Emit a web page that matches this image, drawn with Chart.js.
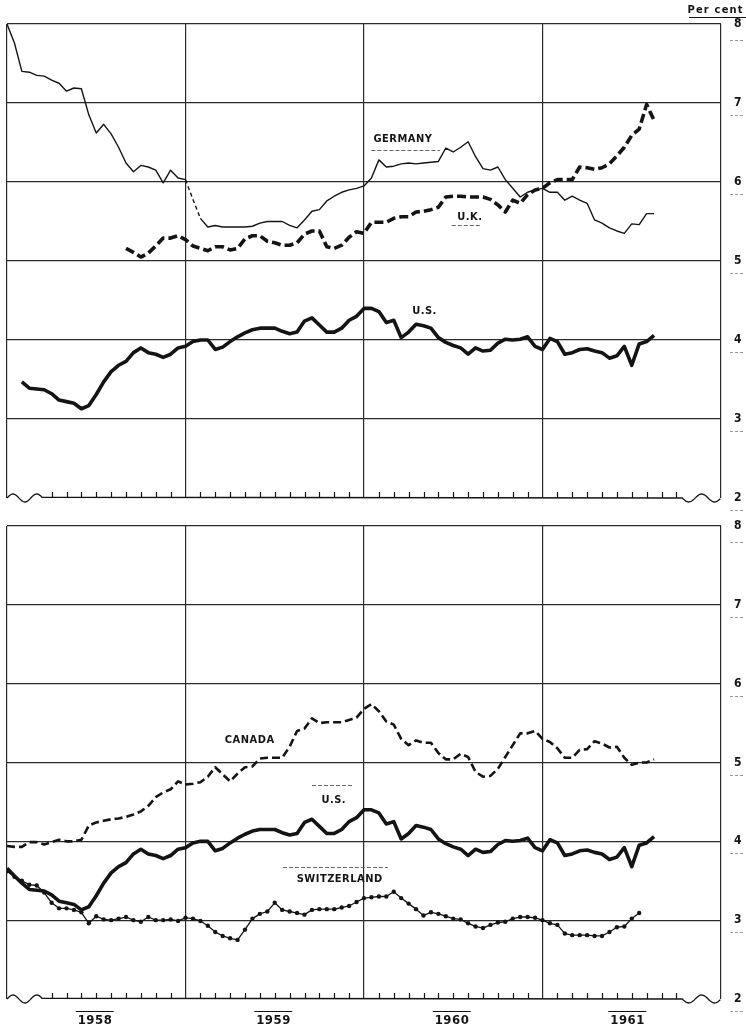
<!DOCTYPE html>
<html>
<head>
  <title>Long-term government bond yields, 1958-1961</title>
  <script src="https://cdn.jsdelivr.net/npm/chart.js"></script>
  <style>
    body { margin: 0; background: #fff; }
    #wrap { position: relative; width: 746px; height: 1026px; }
    canvas { position: absolute; left: 0; }
    #topChart { top: 0; z-index: 2; }
    #bottomChart { top: 505px; z-index: 1; }
  </style>
</head>
<body>
  <div id="wrap">
    <canvas id="topChart" width="746" height="520"></canvas>
    <canvas id="bottomChart" width="746" height="521"></canvas>
  </div>

  <script>
    // readings every half month, x counted in months from January 1958
    const germanyStart = 0;
    const germany = [8.0, 7.76, 7.40, 7.39, 7.35, 7.34, 7.29, 7.25, 7.15, 7.19,
      7.18, 6.85, 6.62, 6.73, 6.61, 6.44, 6.24, 6.13, 6.21, 6.19,
      6.15, 5.99, 6.15, 6.05, 6.03, 5.78, 5.54, 5.43, 5.45, 5.43,
      5.43, 5.43, 5.43, 5.44, 5.48, 5.5, 5.5, 5.5, 5.45, 5.42,
      5.52, 5.63, 5.65, 5.76, 5.82, 5.87, 5.9, 5.92, 5.95, 6.05,
      6.28, 6.19, 6.2, 6.23, 6.24, 6.23, 6.24, 6.25, 6.26, 6.43,
      6.38, 6.44, 6.51, 6.32, 6.17, 6.15, 6.19, 6.03, 5.92, 5.81,
      5.87, 5.9, 5.92, 5.87, 5.87, 5.77, 5.82, 5.77, 5.73, 5.52,
      5.48, 5.42, 5.38, 5.35, 5.47, 5.46, 5.6, 5.6];

    const ukStart = 16;
    const uk = [5.16, 5.11, 5.05, 5.1, 5.19, 5.29, 5.29, 5.32, 5.27, 5.19,
      5.16, 5.13, 5.18, 5.18, 5.14, 5.16, 5.28, 5.32, 5.32, 5.25,
      5.23, 5.2, 5.2, 5.23, 5.34, 5.38, 5.38, 5.18, 5.16, 5.2,
      5.3, 5.37, 5.35, 5.49, 5.49, 5.49, 5.54, 5.56, 5.56, 5.62,
      5.63, 5.65, 5.68, 5.81, 5.82, 5.82, 5.81, 5.81, 5.81, 5.78,
      5.71, 5.62, 5.77, 5.73, 5.84, 5.9, 5.92, 5.99, 6.03, 6.03,
      6.03, 6.19, 6.18, 6.16, 6.18, 6.23, 6.33, 6.44, 6.59, 6.67,
      6.98, 6.78];

    const usStart = 0;
    const usTopFrom = 2; // upper panel starts two readings later
    const us = [3.66, 3.56, 3.47, 3.39, 3.38, 3.37, 3.32, 3.24, 3.22, 3.2,
      3.13, 3.17, 3.31, 3.47, 3.6, 3.68, 3.73, 3.84, 3.9, 3.84,
      3.82, 3.78, 3.82, 3.9, 3.92, 3.98, 4.0, 4.0, 3.88, 3.91,
      3.98, 4.04, 4.09, 4.13, 4.15, 4.15, 4.15, 4.11, 4.08, 4.1,
      4.24, 4.28, 4.19, 4.1, 4.1, 4.15, 4.25, 4.3, 4.4, 4.4,
      4.36, 4.22, 4.25, 4.03, 4.1, 4.2, 4.18, 4.15, 4.03, 3.97,
      3.93, 3.9, 3.82, 3.9, 3.86, 3.87, 3.96, 4.01, 4.0, 4.01,
      4.04, 3.92, 3.88, 4.02, 3.98, 3.82, 3.84, 3.88, 3.89, 3.86,
      3.84, 3.77, 3.8, 3.92, 3.68, 3.95, 3.98, 4.06];

    const canadaStart = 0;
    const canada = [3.94, 3.93, 3.93, 3.99, 3.99, 3.96, 3.99, 4.02, 4.0, 4.0,
      4.02, 4.2, 4.24, 4.26, 4.28, 4.29, 4.31, 4.34, 4.38, 4.45,
      4.56, 4.62, 4.66, 4.76, 4.72, 4.73, 4.75, 4.82, 4.94, 4.85,
      4.76, 4.86, 4.94, 4.95, 5.05, 5.06, 5.06, 5.06, 5.2, 5.4,
      5.43, 5.56, 5.5, 5.51, 5.51, 5.51, 5.54, 5.57, 5.68, 5.74,
      5.65, 5.52, 5.48, 5.3, 5.22, 5.28, 5.25, 5.25, 5.12, 5.04,
      5.04, 5.11, 5.07, 4.88, 4.82, 4.83, 4.92, 5.07, 5.22, 5.37,
      5.37, 5.4, 5.3, 5.26, 5.18, 5.06, 5.06, 5.16, 5.17, 5.27,
      5.24, 5.19, 5.2, 5.06, 4.97, 5.0, 5.0, 5.04];

    const swissStart = 0;
    const switzerland = [3.62, 3.55, 3.5, 3.45, 3.44, 3.35, 3.22, 3.15, 3.15, 3.13,
      3.1, 2.96, 3.05, 3.01, 3.0, 3.02, 3.04, 3.0, 2.98, 3.04,
      3.0, 3.0, 3.01, 2.99, 3.03, 3.02, 2.99, 2.93, 2.85, 2.8,
      2.77, 2.75, 2.88, 3.02, 3.08, 3.11, 3.22, 3.13, 3.11, 3.09,
      3.07, 3.13, 3.14, 3.14, 3.14, 3.16, 3.18, 3.23, 3.28, 3.29,
      3.3, 3.3, 3.36, 3.28, 3.21, 3.14, 3.06, 3.1, 3.08, 3.05,
      3.02, 3.01, 2.96, 2.92, 2.9, 2.94, 2.97, 2.98, 3.02, 3.04,
      3.04, 3.03, 3.0, 2.96, 2.94, 2.83, 2.81, 2.81, 2.81, 2.8,
      2.8, 2.85, 2.91, 2.92, 3.02, 3.09];

    const yearLabels = ['1958', '1959', '1960', '1961'];
    const yearPos = [5.9, 17.9, 29.9, 41.7];

    // series names written on the panels: [text, month, per cent]
    const topNames = [['GERMANY', 26.6, 6.54], ['U.K.', 31.1, 5.56], ['U.S.', 28.05, 4.37]];
    const bottomNames = [['CANADA', 16.3, 5.28], ['U.S.', 21.95, 4.52], ['SWITZERLAND', 22.35, 3.52]];
    // leader lines under / over the names: [from month, to month, per cent]
    const topLeaders = [[24.5, 29.1, 6.41], [29.9, 31.8, 5.46]];
    const bottomLeaders = [[18.55, 25.6, 3.67], [20.5, 23.2, 4.72]];

    const FONT = '"DejaVu Sans Condensed", "Liberation Sans Narrow", "DejaVu Sans", sans-serif';
    const INK = '#141414';

    function toPoints(start, values) {
      return values.map((v, i) => ({ x: (start + i) / 2, y: v }));
    }

    function drawText(ctx, text, px, py, size, spacing) {
      ctx.save();
      ctx.font = 'bold ' + size + 'px ' + FONT;
      ctx.letterSpacing = spacing + 'px';
      ctx.textAlign = 'center';
      ctx.textBaseline = 'middle';
      ctx.fillStyle = INK;
      ctx.fillText(text, px + spacing / 2, py);
      ctx.restore();
    }

    // bottom edge with break marks, month ticks, names, years
    const decor = {
      id: 'decor',
      afterDraw(chart, args, opts) {
        const ctx = chart.ctx;
        const a = chart.chartArea;
        const x = chart.scales.x, y = chart.scales.y;
        const base = a.bottom;
        ctx.save();
        ctx.strokeStyle = INK;
        ctx.lineWidth = 1.3;
        ctx.beginPath();
        const l1 = x.getPixelForValue(2.4);
        ctx.moveTo(a.left, base);
        for (let px = a.left; px <= l1; px++) {
          const t = (px - a.left) / (l1 - a.left);
          ctx.lineTo(px, base - 4 * Math.sin(t * 3 * Math.PI));
        }
        const r0 = x.getPixelForValue(45.4);
        ctx.lineTo(r0, base);
        for (let px = r0; px <= a.right; px++) {
          const t = (px - r0) / (a.right - r0);
          ctx.lineTo(px, base + 4 * Math.sin(t * 3 * Math.PI));
        }
        ctx.stroke();

        ctx.lineWidth = 1.2;
        ctx.beginPath();
        for (let m = 3; m <= 45; m++) {
          if (m % 12 === 0) continue;
          const px = Math.round(x.getPixelForValue(m)) + 0.5;
          ctx.moveTo(px, base);
          ctx.lineTo(px, base - 6);
        }
        ctx.stroke();

        // faint marks under the scale numbers
        ctx.strokeStyle = '#9a9a9a';
        ctx.lineWidth = 1;
        ctx.setLineDash([3, 2]);
        ctx.beginPath();
        for (let v = 2; v <= 8; v++) {
          const py = Math.round(y.getPixelForValue(v)) + (v === 8 ? 16 : 12) + 0.5;
          ctx.moveTo(730, py);
          ctx.lineTo(745, py);
        }
        ctx.stroke();

        ctx.strokeStyle = '#666';
        ctx.setLineDash([4, 2]);
        ctx.beginPath();
        opts.leaders.forEach(l => {
          const py = Math.round(y.getPixelForValue(l[2])) + 0.5;
          ctx.moveTo(x.getPixelForValue(l[0]), py);
          ctx.lineTo(x.getPixelForValue(l[1]), py);
        });
        ctx.stroke();
        ctx.setLineDash([]);

        opts.names.forEach(n => {
          drawText(ctx, n[0], x.getPixelForValue(n[1]), y.getPixelForValue(n[2]), 11, 0.5);
        });

        if (opts.perCent) {
          drawText(ctx, 'Per cent', 715, 10, 11, 1.2);
          ctx.strokeStyle = INK;
          ctx.lineWidth = 1;
          ctx.beginPath();
          ctx.moveTo(689, 17.5);
          ctx.lineTo(746, 17.5);
          ctx.stroke();
        }

        if (opts.years) {
          ctx.strokeStyle = INK;
          ctx.lineWidth = 1;
          yearLabels.forEach((t, i) => {
            const px = x.getPixelForValue(yearPos[i]);
            drawText(ctx, t, px, base + 22, 13, 0.5);
            ctx.beginPath();
            ctx.moveTo(px - 19, base + 12.5);
            ctx.lineTo(px + 19, base + 12.5);
            ctx.stroke();
          });
        }
        ctx.restore();
      }
    };

    function makeOptions(pad, decorOpts) {
      return {
        responsive: false,
        animation: false,
        devicePixelRatio: 1,
        layout: { padding: pad },
        plugins: {
          legend: { display: false },
          tooltip: { enabled: false },
          decor: decorOpts
        },
        elements: {
          point: { radius: 0 },
          line: { tension: 0, borderJoinStyle: 'round' }
        },
        scales: {
          x: {
            type: 'linear',
            min: 0,
            max: 48,
            ticks: { display: false, stepSize: 12 },
            grid: { color: '#2a2a2a', lineWidth: 1.2, drawTicks: false },
            border: { display: false },
            afterFit: s => { s.height = 0; }
          },
          y: {
            position: 'right',
            min: 2,
            max: 8,
            ticks: {
              stepSize: 1,
              padding: 13,
              color: INK,
              font: { family: FONT, weight: 'bold', size: 12 }
            },
            grid: {
              color: c => c.tick.value === 2 ? 'rgba(0,0,0,0)' : '#2a2a2a',
              lineWidth: 1.2,
              drawTicks: false
            },
            border: { display: false },
            afterFit: s => { s.width = 25; }
          }
        }
      };
    }

    new Chart(document.getElementById('topChart'), {
      type: 'line',
      data: {
        datasets: [
          {
            label: 'Germany',
            data: toPoints(germanyStart, germany),
            borderColor: INK,
            borderWidth: 1.4,
            segment: {
              borderDash: c => (c.p0DataIndex >= 24 && c.p0DataIndex < 26) ? [4, 3] : undefined
            }
          },
          {
            label: 'U.K.',
            data: toPoints(ukStart, uk),
            borderColor: INK,
            borderWidth: 3.6,
            borderDash: [9, 4]
          },
          {
            label: 'U.S.',
            data: toPoints(usStart + usTopFrom, us.slice(usTopFrom)),
            borderColor: INK,
            borderWidth: 3.6
          }
        ]
      },
      options: makeOptions({ top: 24, left: 7, right: 0, bottom: 22 },
        { names: topNames, leaders: topLeaders, perCent: true, years: false }),
      plugins: [decor]
    });

    new Chart(document.getElementById('bottomChart'), {
      type: 'line',
      data: {
        datasets: [
          {
            label: 'Canada',
            data: toPoints(canadaStart, canada),
            borderColor: INK,
            borderWidth: 2.6,
            borderDash: [8, 4]
          },
          {
            label: 'U.S.',
            data: toPoints(usStart, us),
            borderColor: INK,
            borderWidth: 3.6
          },
          {
            label: 'Switzerland',
            data: toPoints(swissStart, switzerland),
            borderColor: INK,
            borderWidth: 1.3,
            pointRadius: 2.2,
            pointBackgroundColor: INK,
            pointBorderWidth: 0
          }
        ]
      },
      options: makeOptions({ top: 21, left: 7, right: 0, bottom: 27 },
        { names: bottomNames, leaders: bottomLeaders, perCent: false, years: true }),
      plugins: [decor]
    });
  </script>
</body>
</html>
